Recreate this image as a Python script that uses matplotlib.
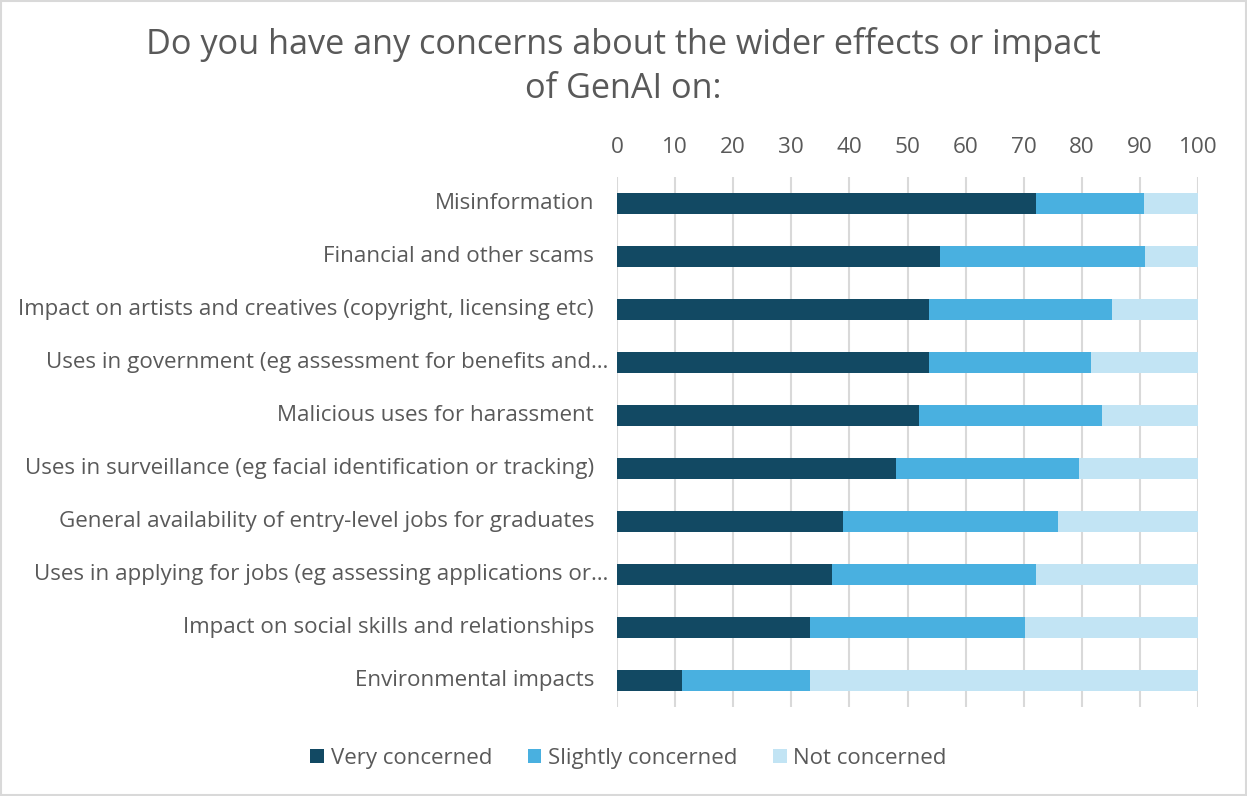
import matplotlib
matplotlib.use("Agg")
import matplotlib.pyplot as plt
from matplotlib.patches import Rectangle, Patch
import matplotlib.transforms as mtransforms

# Survey responses (% of respondents), top to bottom
categories = [
    "Misinformation",
    "Financial and other scams",
    "Impact on artists and creatives (copyright, licensing etc)",
    "Uses in government (eg assessment for benefits and\u2026",
    "Malicious uses for harassment",
    "Uses in surveillance (eg facial identification or tracking)",
    "General availability of entry-level jobs for graduates",
    "Uses in applying for jobs (eg assessing applications or\u2026",
    "Impact on social skills and relationships",
    "Environmental impacts",
]
truncated = [False, False, False, True, False, False, False, True, False, False]
very = [72.2, 55.6, 53.7, 53.7, 51.9, 48.1, 38.9, 37.0, 33.3, 11.1]
slightly = [18.5, 35.2, 31.5, 27.8, 31.5, 31.5, 37.0, 35.2, 37.0, 22.2]
not_concerned = [9.3, 9.2, 14.8, 18.5, 16.6, 20.4, 24.1, 27.8, 29.7, 66.7]
series_names = ["Very concerned", "Slightly concerned", "Not concerned"]
colors = ["#124963", "#49B0E0", "#C2E4F4"]
x_ticks = [0, 10, 20, 30, 40, 50, 60, 70, 80, 90, 100]
title_lines = ["Do you have any concerns about the wider effects or impact", "of GenAI on:"]

text_color = "#595959"
grid_color = "#D9D9D9"
font = "Open Sans"

fig = plt.figure(figsize=(12.47, 7.96), dpi=100)
ax = fig.add_axes([0.4948, 0.1118, 0.4659, 0.6658])

ypos = list(range(len(categories)))
left = [0.0] * len(categories)
for vals, col in zip([very, slightly, not_concerned], colors):
    ax.barh(ypos, vals, left=left, height=0.4, color=col, edgecolor="none", zorder=3)
    left = [a + b for a, b in zip(left, vals)]

ax.set_xlim(0, 100)
ax.set_ylim(len(categories) - 0.5, -0.5)
ax.set_xticks(x_ticks)
ax.xaxis.tick_top()
ax.tick_params(axis="x", length=0, pad=14, labelsize=16.2, labelcolor=text_color)
for lbl in ax.get_xticklabels():
    lbl.set_fontfamily(font)
ax.set_yticks([])
ax.grid(axis="x", color=grid_color, linewidth=1.5, zorder=0)
for s in ax.spines.values():
    s.set_visible(False)

# Category labels, right aligned against the plot area
for y, name, trunc in zip(ypos, categories, truncated):
    off = -9 if trunc else -23
    tr = mtransforms.offset_copy(ax.get_yaxis_transform(), fig=fig, x=off, y=0, units="dots")
    ax.text(0, y, name, transform=tr, ha="right", va="center",
            fontsize=16.1, color=text_color, fontfamily=font)

for i, line in enumerate(title_lines):
    fig.text(0.5, 1 - (44 + 45 * i) / 796, line, ha="center", va="center",
             fontsize=24.7, color=text_color, fontfamily=font)

handles = [Patch(facecolor=c, edgecolor="none") for c in colors]
leg = fig.legend(handles, series_names, loc="center", bbox_to_anchor=(0.504, 0.047),
                 ncol=3, frameon=False, handlelength=0.62, handleheight=0.62,
                 handletextpad=0.3, columnspacing=1.6,
                 prop={"family": font, "size": 16})
for t in leg.get_texts():
    t.set_color(text_color)

fig.patches.append(Rectangle((0.001, 0.001), 0.998, 0.998, transform=fig.transFigure,
                             fill=False, edgecolor=grid_color, linewidth=1.5))

fig.savefig("out.png", dpi=100, facecolor="white")
